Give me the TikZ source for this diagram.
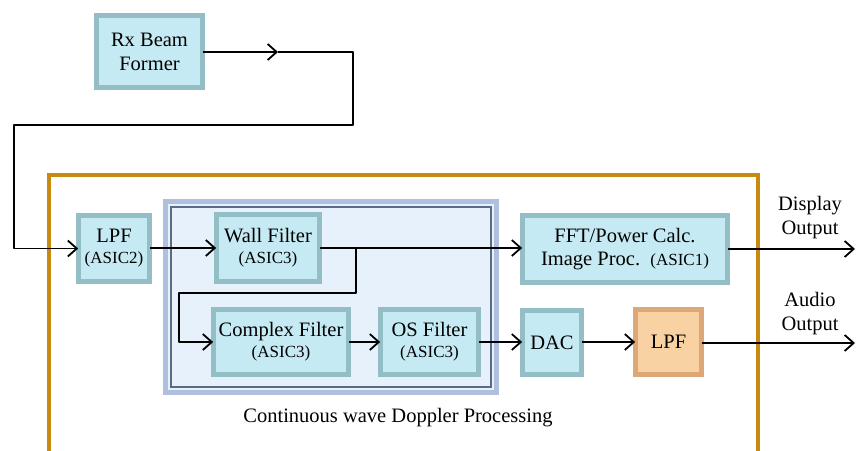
\documentclass[tikz,border=0pt]{standalone}
\usepackage{fontspec}
\setmainfont{Liberation Serif}
\usetikzlibrary{arrows.meta}
\newcommand\fbig{\fontsize{20.5}{24}\selectfont}
\newcommand\fsml{\fontsize{17}{20}\selectfont}
\definecolor{bfill}{HTML}{C6EAF3}
\definecolor{bbevel}{HTML}{94BEC6}
\definecolor{bedge}{HTML}{4F7A82}
\definecolor{ofill}{HTML}{F9D2A4}
\definecolor{obevel}{HTML}{DDA878}
\definecolor{oedge}{HTML}{9C6C40}
\definecolor{pfill}{HTML}{E7F1FB}
\definecolor{pborder}{HTML}{AFC0DE}
\definecolor{pinner}{HTML}{5C6B85}
\definecolor{frame}{HTML}{C98A12}
\begin{document}
\begin{tikzpicture}[x=1pt,y=-1pt,
  blk/.style={draw=bedge, double=bbevel, double distance=4.5pt, line width=0.7pt, fill=bfill,
    inner sep=0pt, align=center, font=\fbig},
  oblk/.style={blk, draw=oedge, double=obevel, fill=ofill},
  arr/.style={line width=1.8pt, -{Straight Barb[length=9pt,width=16pt,line width=1.8pt]}},
  lbl/.style={font=\fbig, align=center, inner sep=0pt}]
\useasboundingbox (0,0) rectangle (856,450);

% orange frame
\draw[frame, line width=3.5pt] (49,452) -- (49,175) -- (758,175) -- (758,452);

% blue panel
\fill[pfill] (163,199) rectangle (499,395);
\draw[pborder, line width=4.5pt] (165.5,201.5) rectangle (496.5,392.5);
\draw[pinner, line width=1.2pt] (171,207) rectangle (491,387);

% nodes
\node[blk, minimum width=106pt, minimum height=72pt] (rx) at (149.5,51.5) {Rx Beam\\Former};
\node[blk, minimum width=71pt, minimum height=66pt] (lpfa) at (114,248.5) {LPF\\[-3pt]{\fsml (ASIC2)}};
\node[blk, minimum width=103pt, minimum height=67pt] (wall) at (268,248) {Wall Filter\\[-3pt]{\fsml (ASIC3)}};
\node[blk, minimum width=135pt, minimum height=65pt] (cplx) at (281,342) {Complex Filter\\[-3pt]{\fsml (ASIC3)}};
\node[blk, minimum width=98pt, minimum height=65pt] (os) at (429.5,342) {OS Filter\\[-3pt]{\fsml (ASIC3)}};
\node[blk, minimum width=59pt, minimum height=64pt] (dac) at (552,342.5) {DAC};
\node[oblk, minimum width=66pt, minimum height=65pt] (lpfb) at (668.5,342) {LPF};
\node[blk, minimum width=205pt, minimum height=67pt] (fft) at (625,249) {FFT/Power Calc.\\[-1pt]Image Proc.\ \ {\fsml (ASIC1)}};

% labels
\node[lbl] (disp) at (810,218) {Display\\Output};
\node[lbl] (aud) at (810,314) {Audio\\Output};
\node[lbl] (cwd) at (398,418) {Continuous wave Doppler Processing};

% coordinates
\coordinate (ma) at (278,52);
\coordinate (c1) at (353,52);
\coordinate (c2) at (353,125);
\coordinate (c3) at (14,125);
\coordinate (c4) at (14,248.5);
\coordinate (br) at (356,248);
\coordinate (b1) at (356,293);
\coordinate (b2) at (179,293);
\coordinate (b3) at (179,342);
\coordinate (o1) at (855,249);
\coordinate (o2) at (855,343);

% connectors
\draw[arr] (rx.east |- ma) -- (ma);
\draw[arr, line join=round] (ma) -- (c1) -- (c2) -- (c3) -- (c4) -- (lpfa.west);
\draw[arr] (lpfa.east |- wall.west) -- (wall.west);
\draw[arr] (wall.east) -- (fft.west |- wall.east);
\draw[arr, line join=round] (br) -- (b1) -- (b2) -- (b3) -- (cplx.west);
\draw[arr] (cplx.east) -- (os.west);
\draw[arr] (os.east) -- (dac.west |- os.east);
\draw[arr] (dac.east |- lpfb.west) -- (lpfb.west);
\draw[arr] (fft.east) -- (o1);
\draw[arr] (lpfb.east |- o2) -- (o2);
\end{tikzpicture}
\end{document}
